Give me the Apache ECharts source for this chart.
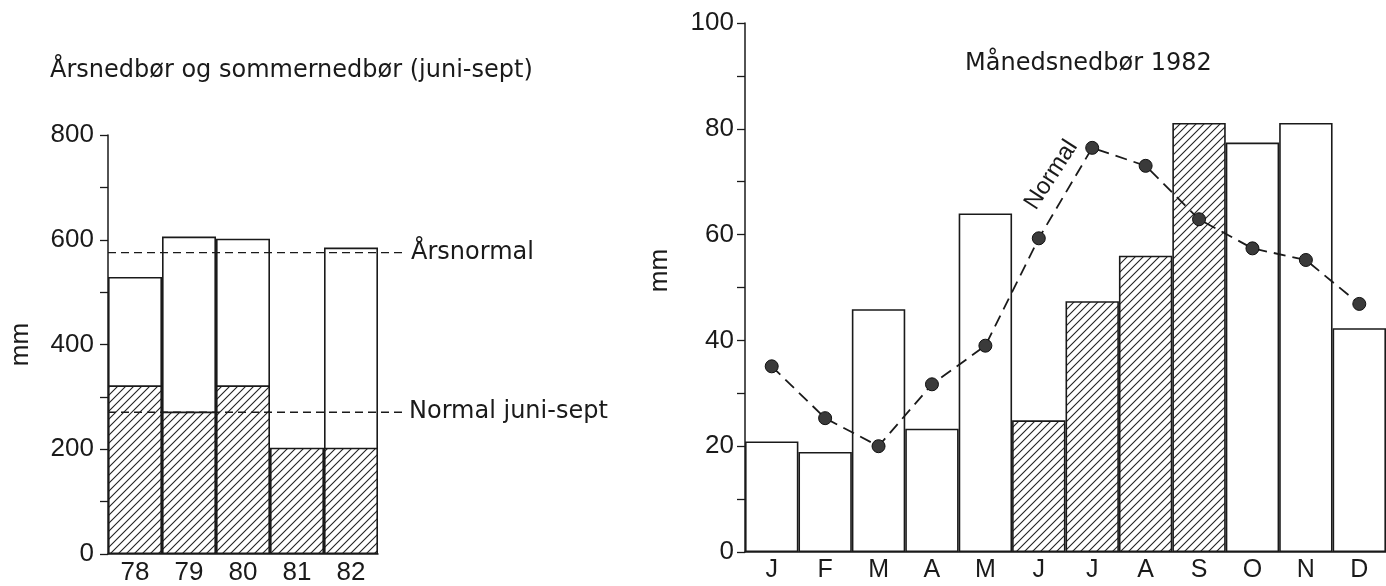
<!DOCTYPE html>
<html><head><meta charset="utf-8">
<script src="https://cdn.jsdelivr.net/npm/echarts@6/dist/echarts.min.js"></script>
<style>html,body{margin:0;padding:0;background:#fff}#c{width:1386px;height:586px}</style>
</head><body><div id="c"></div>
<script>
// ---- Left chart data: annual and summer (June-Sept) precipitation, mm ----
const years = ['78', '79', '80', '81', '82'];
const annualTotal = [529, 606, 602, null, 585];
const summerTotal = [322, 272, 322, 203, 203];
const annualNormal = 576;
const summerNormal = 272;

// ---- Right chart data: monthly precipitation 1982, mm ----
const months = ['J', 'F', 'M', 'A', 'M', 'J', 'J', 'A', 'S', 'O', 'N', 'D'];
const monthly1982 = [20.9, 18.9, 45.9, 23.3, 64.0, 24.9, 47.4, 56.0, 81.1, 77.4, 81.1, 42.3];
const monthlyNormal = [35.1, 25.3, 20.0, 31.7, 39.0, 59.3, 76.4, 73.0, 62.9, 57.4, 55.2, 46.9];
const summerMonthIdx = [5, 6, 7, 8];

const FONT = 'Liberation Sans';
const TFONT = 'DejaVu Sans';
const INK = '#1a1a1a';

function hatch() {
  const s = 8, c = document.createElement('canvas');
  c.width = s; c.height = s;
  const g = c.getContext('2d');
  g.fillStyle = '#fff'; g.fillRect(0, 0, s, s);
  g.strokeStyle = '#222'; g.lineWidth = 1.1;
  g.beginPath();
  g.moveTo(0, s); g.lineTo(s, 0);
  g.moveTo(-1, 1); g.lineTo(1, -1);
  g.moveTo(s - 1, s + 1); g.lineTo(s + 1, s - 1);
  g.stroke();
  return { image: c, repeat: 'repeat' };
}
const HATCH = hatch();

const chart = echarts.init(document.getElementById('c'), null, { renderer: 'canvas' });

const axisLineStyle = { color: INK, width: 1.5 };
const barBorder = { borderColor: INK, borderWidth: 1.6 };

const option = {
  animation: false,
  backgroundColor: '#fff',
  textStyle: { fontFamily: FONT, color: INK },
  title: [
    { text: 'Årsnedbør og sommernedbør (juni-sept)', left: 50, top: 59, padding: 0,
      textStyle: { fontFamily: TFONT, fontSize: 24, fontWeight: 'normal', color: INK } },
    { text: 'Månedsnedbør 1982', left: 965, top: 52, padding: 0,
      textStyle: { fontFamily: TFONT, fontSize: 24, fontWeight: 'normal', color: INK } }
  ],
  grid: [
    { left: 108, width: 270, top: 135, height: 420 },
    { left: 108, width: 297, top: 135, height: 420 },
    { left: 745, width: 641, top: 23, height: 529 }
  ],
  xAxis: [
    { type: 'category', gridIndex: 0, data: years, boundaryGap: true,
      axisLine: { lineStyle: axisLineStyle },
      axisTick: { alignWithLabel: false, length: 9, lineStyle: { color: INK, width: 1.3 } },
      axisLabel: { fontSize: 26, color: INK, margin: 6, fontFamily: FONT } },
    { type: 'value', gridIndex: 1, min: 0, max: 1, show: false },
    { type: 'category', gridIndex: 2, data: months, boundaryGap: true,
      axisLine: { lineStyle: axisLineStyle },
      axisTick: { alignWithLabel: false, length: 8, lineStyle: { color: INK, width: 1.3 } },
      axisLabel: { fontSize: 25, color: INK, margin: 6, fontFamily: FONT } }
  ],
  yAxis: [
    { type: 'value', gridIndex: 0, min: 0, max: 800, interval: 200,
      axisLine: { show: true, lineStyle: axisLineStyle },
      axisTick: { show: true, length: 8, lineStyle: { color: INK, width: 1.3 } },
      minorTick: { show: true, splitNumber: 2, length: 8, lineStyle: { color: INK, width: 1.3 } },
      splitLine: { show: false },
      axisLabel: { fontSize: 26, color: INK, margin: 14, fontFamily: FONT },
      name: 'mm', nameLocation: 'middle', nameGap: 74, nameRotate: 90,
      nameTextStyle: { fontSize: 26, color: INK, fontFamily: FONT } },
    { type: 'value', gridIndex: 1, min: 0, max: 800, show: false },
    { type: 'value', gridIndex: 2, min: 0, max: 100, interval: 20,
      axisLine: { show: true, lineStyle: axisLineStyle },
      axisTick: { show: true, length: 8, lineStyle: { color: INK, width: 1.3 } },
      minorTick: { show: true, splitNumber: 2, length: 8, lineStyle: { color: INK, width: 1.3 } },
      splitLine: { show: false },
      axisLabel: { fontSize: 26, color: INK, margin: 11, fontFamily: FONT },
      name: 'mm', nameLocation: 'middle', nameGap: 72, nameRotate: 90,
      nameTextStyle: { fontSize: 26, color: INK, fontFamily: FONT, padding: [0, 0, 0, 34] } }
  ],
  series: [
    { type: 'bar', xAxisIndex: 0, yAxisIndex: 0, data: annualTotal,
      barGap: '-100%', barCategoryGap: '0%',
      itemStyle: Object.assign({ color: '#fff' }, barBorder) },
    { type: 'bar', xAxisIndex: 0, yAxisIndex: 0, data: summerTotal,
      barGap: '-100%', barCategoryGap: '0%',
      itemStyle: Object.assign({ color: HATCH }, barBorder) },
    { type: 'line', xAxisIndex: 1, yAxisIndex: 1, z: 5, symbol: 'none',
      data: [[0, annualNormal], [1, annualNormal]],
      lineStyle: { color: INK, width: 1.4, type: [8, 5] },
      endLabel: { show: true, formatter: 'Årsnormal', distance: 6,
        fontFamily: TFONT, fontSize: 24, color: INK } },
    { type: 'line', xAxisIndex: 1, yAxisIndex: 1, z: 5, symbol: 'none',
      data: [[0, summerNormal], [1, summerNormal]],
      lineStyle: { color: INK, width: 1.4, type: [8, 5] },
      endLabel: { show: true, formatter: 'Normal juni-sept', distance: 4,
        fontFamily: TFONT, fontSize: 24, color: INK } },
    { type: 'bar', xAxisIndex: 2, yAxisIndex: 2, barCategoryGap: '0%',
      data: monthly1982.map((v, i) => ({
        value: v,
        itemStyle: Object.assign({ color: summerMonthIdx.includes(i) ? HATCH : '#fff' }, barBorder)
      })) },
    { type: 'line', xAxisIndex: 2, yAxisIndex: 2, z: 5,
      symbol: 'circle', symbolSize: 13,
      itemStyle: { color: '#3a3a3a', borderColor: '#111', borderWidth: 1 },
      lineStyle: { color: INK, width: 1.8, type: [12, 7] },
      data: monthlyNormal.map((v, i) => i === 5 ? {
        value: v,
        label: { show: true, formatter: 'Normal', position: 'inside', rotate: 57,
          offset: [60, -24], fontFamily: FONT, fontSize: 24, color: INK }
      } : v) }
  ]
};
chart.setOption(option);
</script>
</body></html>
